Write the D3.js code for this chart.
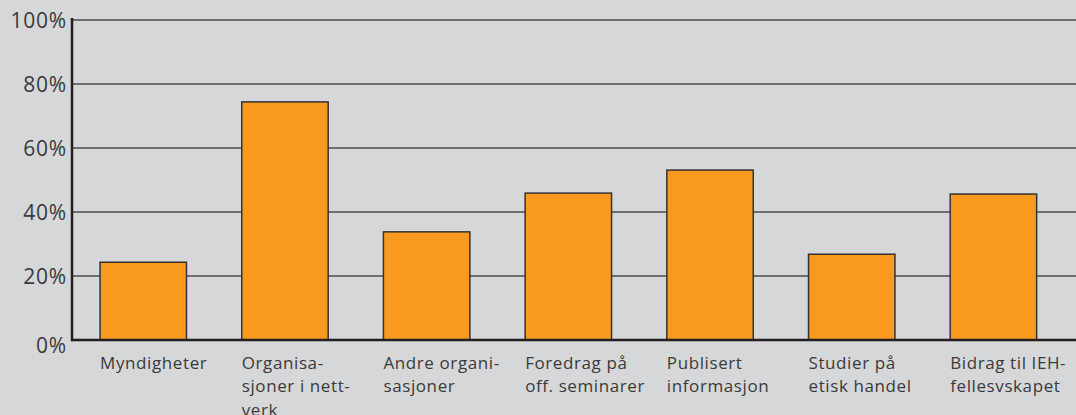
<!DOCTYPE html>
<html>
<head>
<meta charset="utf-8">
<script src="https://cdn.jsdelivr.net/npm/d3@7"></script>
<style>
  html, body { margin: 0; padding: 0; background: #d6d7d9; }
  svg { display: block; }
</style>
</head>
<body>
<svg id="chart" width="1076" height="415"></svg>
<script>
const categories = ["Myndigheter", "Organisasjoner i nettverk", "Andre organisasjoner", "Foredrag på off. seminarer", "Publisert informasjon", "Studier på etisk handel", "Bidrag til IEH-fellesvskapet"];
const categoryLines = [
  ["Myndigheter"],
  ["Organisa-", "sjoner i nett-", "verk"],
  ["Andre organi-", "sasjoner"],
  ["Foredrag på", "off. seminarer"],
  ["Publisert", "informasjon"],
  ["Studier på", "etisk handel"],
  ["Bidrag til IEH-", "fellesvskapet"]
];
const values = [24.3, 74.4, 33.8, 45.9, 53.1, 26.8, 45.6];
const yTicks = [0, 20, 40, 60, 80, 100];

(function () {
const W = 1076, H = 415;
const padLeft = 72, padTop = 20, baseY = 340;
const svg = d3.select("#chart");
svg.append("rect").attr("width", W).attr("height", H).attr("fill", "#d6d7d9");

const y = d3.scaleLinear().domain([0, 100]).range([baseY, padTop]);
const x = d3.scaleBand().domain(categories).range([padLeft, 1064.7]).paddingInner(0.39).paddingOuter(0.198);

// gridlines
svg.append("g").selectAll("line").data(yTicks.filter(d => d > 0)).join("line")
  .attr("x1", padLeft).attr("x2", W)
  .attr("y1", d => y(d)).attr("y2", d => y(d))
  .attr("stroke", "#6e6e6e").attr("stroke-width", 2);

// y tick labels
svg.append("g").selectAll("text").data(yTicks).join("text")
  .attr("x", 67)
  .attr("y", d => y(d) + (d === 0 ? 12.7 : 8))
  .attr("text-anchor", "end")
  .attr("font-family", "'Open Sans', sans-serif")
  .attr("font-size", 21)
  .attr("letter-spacing", 0.8)
  .attr("fill", "#3a3a3a")
  .text(d => d + "%");

// bars
svg.append("g").selectAll("rect").data(values).join("rect")
  .attr("x", (d, i) => x(categories[i]))
  .attr("width", x.bandwidth())
  .attr("y", d => y(d))
  .attr("height", d => y(0) - y(d))
  .attr("fill", "#f99a1f")
  .attr("stroke", "#333333")
  .attr("stroke-width", 1.5);

// axes lines
svg.append("line").attr("x1", padLeft).attr("x2", padLeft).attr("y1", padTop - 2).attr("y2", baseY + 1.2)
  .attr("stroke", "#231f20").attr("stroke-width", 2.5);
svg.append("line").attr("x1", padLeft - 1).attr("x2", W).attr("y1", baseY).attr("y2", baseY)
  .attr("stroke", "#231f20").attr("stroke-width", 2.5);

// category labels
const lab = svg.append("g").selectAll("text").data(categoryLines).join("text")
  .attr("x", (d, i) => x(categories[i]))
  .attr("y", 369)
  .attr("font-family", "'Open Sans', sans-serif")
  .attr("font-size", 17)
  .attr("letter-spacing", 0.6)
  .attr("fill", "#3a3a3a");
lab.each(function(lines, i) {
  d3.select(this).selectAll("tspan").data(lines).join("tspan")
    .attr("x", x(categories[i]))
    .attr("dy", (d, j) => j === 0 ? 0 : 23.3)
    .text(d => d);
});
})();
</script>
</body>
</html>
